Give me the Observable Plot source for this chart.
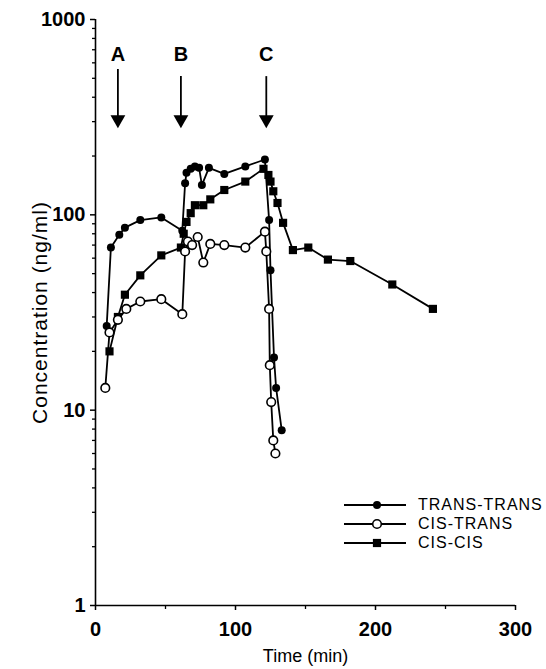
<!DOCTYPE html>
<html><head><meta charset="utf-8">
<script src="https://cdn.jsdelivr.net/npm/d3@7"></script>
<script src="https://cdn.jsdelivr.net/npm/@observablehq/plot@0.6"></script>
<style>
body{margin:0;background:#fff;}
#wrap{position:relative;width:546px;height:669px;}
#legend{position:absolute;left:340px;top:495px;font-family:"Liberation Sans",Arial,sans-serif;font-size:16px;color:#000;}
#legend .row{display:flex;align-items:center;height:19.3px;}
#legend svg{display:block;}
#legend span{margin-left:12px;letter-spacing:1px;}
</style></head><body><div id="wrap"><div id="legend"></div></div>
<script>
// TRANS-TRANS (filled circles)
const transTime = [8, 11, 17, 21, 32, 47, 62, 64, 65, 68, 71, 74, 76, 81, 92, 107, 121, 124, 125, 127.5, 129, 133];
const transConc = [27, 68, 79, 86, 94, 97, 83, 145, 164, 172, 177, 174, 142, 174, 162, 177, 192, 94, 52, 18.6, 13, 7.9];
// CIS-TRANS (open circles)
const cisTransTime = [7, 10, 16, 22, 32, 47, 62, 64, 66, 69, 73, 77, 82, 92, 107, 121, 122, 124, 124.5, 125.5, 127, 128.5];
const cisTransConc = [13, 25, 29, 33, 36, 37, 31, 65, 73, 70, 77, 57, 71, 70, 68, 82, 65, 33, 17, 11, 7, 6];
// CIS-CIS (filled squares)
const cisCisTime = [10, 16, 21, 32, 47, 61, 63, 65, 68, 71, 77, 82, 92, 107, 120, 123.5, 125, 127, 130, 134, 141, 152, 166, 182, 212, 241];
const cisCisConc = [20, 30, 39, 49, 62, 68, 80, 92, 102, 112, 112, 120, 134, 148, 172, 160, 148, 132, 115, 91, 66, 68, 59, 58, 44, 33];

// annotation arrows
const arrowLabels = ["A", "B", "C"];
const arrowTime = [16, 61, 122];
const arrowStart = [554, 510, 510];
const arrowTip = [300, 300, 300];
const arrowLabelConc = [660, 660, 660];

// ticks
const xTicks = [0, 100, 200, 300];
const xMinorTicks = [50, 150, 250];
const yTicks = [1, 10, 100, 1000];
const yMinorTicks = [2,3,4,5,6,7,8,9,20,30,40,50,60,70,80,90,200,300,400,500,600,700,800,900];

const xTitle = "Time (min)";
const yTitle = "Concentration (ng/ml)";
const seriesNames = ["TRANS-TRANS", "CIS-TRANS", "CIS-CIS"];
const toRows = (name, t, c) => t.map((d, i) => ({series: name, time: d, conc: c[i]}));
const trans = toRows(seriesNames[0], transTime, transConc);
const cisTrans = toRows(seriesNames[1], cisTransTime, cisTransConc);
const cisCis = toRows(seriesNames[2], cisCisTime, cisCisConc);
const arrows = arrowLabels.map((l, i) => ({label: l, time: arrowTime[i], y1: arrowStart[i], y2: arrowTip[i], ly: arrowLabelConc[i]}));

const font = "Liberation Sans, Arial, sans-serif";
const chart = Plot.plot({
  width: 546, height: 669,
  marginLeft: 95, marginRight: 31, marginTop: 19, marginBottom: 64,
  style: {fontFamily: font, background: "white", color: "black", overflow: "visible"},
  x: {domain: [0, 300]},
  y: {type: "log", domain: [1, 1000]},
  marks: [
    Plot.axisY(yMinorTicks, {tickSize: 3, tickFormat: () => "", label: null, strokeWidth: 1.3}),
    Plot.axisY(yTicks, {tickSize: 5, tickPadding: 5, tickFormat: d => String(d), fontSize: 20, fontWeight: "bold", label: null, strokeWidth: 1.5}),
    Plot.axisX(xMinorTicks, {tickSize: 4, tickFormat: () => "", label: null, strokeWidth: 1.3}),
    Plot.axisX(xTicks, {tickSize: 5, tickPadding: 11, tickFormat: d => String(d), fontSize: 20, fontWeight: "bold", label: null, strokeWidth: 1.5}),
    Plot.ruleX([0], {stroke: "black", strokeWidth: 1.6}),
    Plot.ruleY([1], {stroke: "black", strokeWidth: 1.6}),
    Plot.text([yTitle], {frameAnchor: "left", dx: -55, rotate: -90, fontSize: 21, text: d => d, fill: "black", textAnchor: "middle", lineAnchor: "middle"}),
    Plot.text([xTitle], {frameAnchor: "bottom", dy: 51, fontSize: 18, text: d => d, fill: "black", textAnchor: "middle", lineAnchor: "middle"}),
    // arrows
    Plot.ruleX(arrows, {x: "time", y1: "y1", y2: "y2", stroke: "black", strokeWidth: 1.8}),
    Plot.dot(arrows, {x: "time", y: "y2", symbol: "triangle", rotate: 180, r: 5.5, fill: "black", stroke: "none", dy: -2}),
    Plot.text(arrows, {x: "time", y: "ly", text: "label", fontSize: 20, fontWeight: "bold", fill: "black"}),
    // series
    Plot.line(cisCis, {x: "time", y: "conc", stroke: "black", strokeWidth: 1.8}),
    Plot.line(trans, {x: "time", y: "conc", stroke: "black", strokeWidth: 1.8}),
    Plot.line(cisTrans, {x: "time", y: "conc", stroke: "black", strokeWidth: 1.8}),
    Plot.dot(cisCis, {x: "time", y: "conc", symbol: "square", r: 4.6, fill: "black", stroke: "none"}),
    Plot.dot(trans, {x: "time", y: "conc", r: 4, fill: "black", stroke: "none"}),
    Plot.dot(cisTrans, {x: "time", y: "conc", r: 4.3, fill: "white", stroke: "black", strokeWidth: 1.6})
  ]
});
document.getElementById("wrap").prepend(chart);
d3.select(chart).selectAll("text").filter(function() { return this.textContent === yTitle; }).attr("letter-spacing", "1px");

// legend
const legend = d3.select("#legend");
const markers = [
  g => g.append("circle").attr("cx", 37).attr("cy", 8).attr("r", 4).attr("fill", "black"),
  g => g.append("circle").attr("cx", 37).attr("cy", 8).attr("r", 4.3).attr("fill", "white").attr("stroke", "black").attr("stroke-width", 1.6),
  g => g.append("rect").attr("x", 37 - 4.1).attr("y", 8 - 4.1).attr("width", 8.2).attr("height", 8.2).attr("fill", "black")
];
seriesNames.forEach((name, i) => {
  const row = legend.append("div").attr("class", "row");
  const svg = row.append("svg").attr("width", 66).attr("height", 16);
  svg.append("line").attr("x1", 4).attr("x2", 66).attr("y1", 8).attr("y2", 8).attr("stroke", "black").attr("stroke-width", 1.8);
  markers[i](svg);
  row.append("span").text(name);
});
</script>
</body></html>
